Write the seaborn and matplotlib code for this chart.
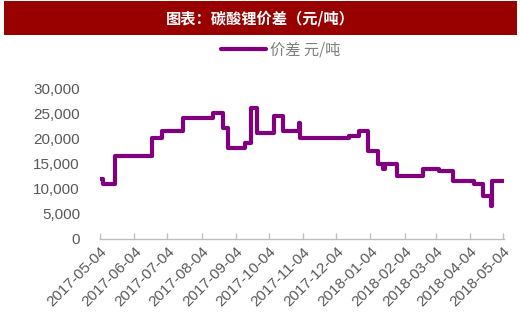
import matplotlib
matplotlib.use("Agg")
import matplotlib.pyplot as plt
import matplotlib.patches as mpatches
import seaborn as sns
import pandas as pd

# ---- data (change points of the step series) ----
dates = ["2017-05-04", "2017-05-07", "2017-05-18", "2017-06-20", "2017-06-29",
         "2017-07-18", "2017-08-14", "2017-08-23", "2017-08-28", "2017-09-12",
         "2017-09-18", "2017-09-23", "2017-10-09", "2017-10-17", "2017-10-31",
         "2017-11-01", "2017-12-16", "2017-12-25", "2018-01-02", "2018-01-11",
         "2018-01-15", "2018-01-17", "2018-01-28", "2018-02-21", "2018-03-07",
         "2018-03-20", "2018-04-08", "2018-04-16", "2018-04-23", "2018-04-24",
         "2018-05-05"]
values = [12000, 11000, 16500, 20000, 21500,
          24000, 25000, 22000, 18000, 19000,
          26000, 21000, 24500, 21500, 23000,
          20000, 20500, 21500, 17500, 15000,
          14000, 15000, 12500, 14000, 13500,
          11500, 11000, 8500, 6500, 11500,
          11500]
x_tick_labels = ["2017-05-04", "2017-06-04", "2017-07-04", "2017-08-04",
                 "2017-09-04", "2017-10-04", "2017-11-04", "2017-12-04",
                 "2018-01-04", "2018-02-04", "2018-03-04", "2018-04-04",
                 "2018-05-04"]
y_ticks = [0, 5000, 10000, 15000, 20000, 25000, 30000]
series_name = "价差 元/吨"
title = "图表：碳酸锂价差（元/吨）"

df = pd.DataFrame({"date": pd.to_datetime(dates), "value": values})

sns.set_theme(style="white")
plt.rcParams["font.family"] = ["Noto Sans CJK SC", "DejaVu Sans"]

W, H = 520, 320
fig = plt.figure(figsize=(W / 100, H / 100), dpi=100)
ax = fig.add_axes([100 / W, (H - 239) / H, (504 - 100) / W, (239 - 88) / H])

sns.lineplot(data=df, x="date", y="value", ax=ax, color="#800080",
             linewidth=3.0, drawstyle="steps-post", label=series_name,
             legend=False)

xt = pd.to_datetime(x_tick_labels)
ax.set_xlim(xt[0], pd.Timestamp("2018-05-05"))
ax.set_xticks(xt)
ax.set_xticklabels(x_tick_labels, rotation=45, ha="right",
                   rotation_mode="anchor", color="#595959", fontsize=11,
                   family=["Liberation Sans", "DejaVu Sans"])
ax.set_ylim(0, 30000)
ax.set_yticks(y_ticks)
ax.set_yticklabels([f"{v:,}" for v in y_ticks], color="#595959", fontsize=11,
                   family=["Liberation Sans", "DejaVu Sans"])
ax.set_xlabel("")
ax.set_ylabel("")

for s in ["top", "right", "left"]:
    ax.spines[s].set_visible(False)
ax.spines["bottom"].set_color("#bfbfbf")
ax.spines["bottom"].set_linewidth(1.0)
ax.tick_params(axis="x", direction="in", length=4, color="#bfbfbf",
               width=1.0, pad=4, bottom=True)
ax.tick_params(axis="y", length=0, pad=14.4)

# Title banner
banner = mpatches.Rectangle((4 / W, (H - 35) / H), (517 - 4) / W, 34 / H,
                            transform=fig.transFigure, facecolor="#990000",
                            edgecolor="none")
fig.add_artist(banner)
fig.text(260 / W, (H - 18) / H, title, color="white", fontsize=11,
         fontweight="bold", ha="center", va="center")

# Legend
leg = fig.legend(handles=ax.get_lines()[:1], labels=[series_name],
                 loc="center", bbox_to_anchor=(281 / W, (H - 50) / H),
                 frameon=False, fontsize=11, handlelength=2.9,
                 handletextpad=0.3, labelcolor="#7f7f7f")

fig.savefig("out.png", dpi=100)
